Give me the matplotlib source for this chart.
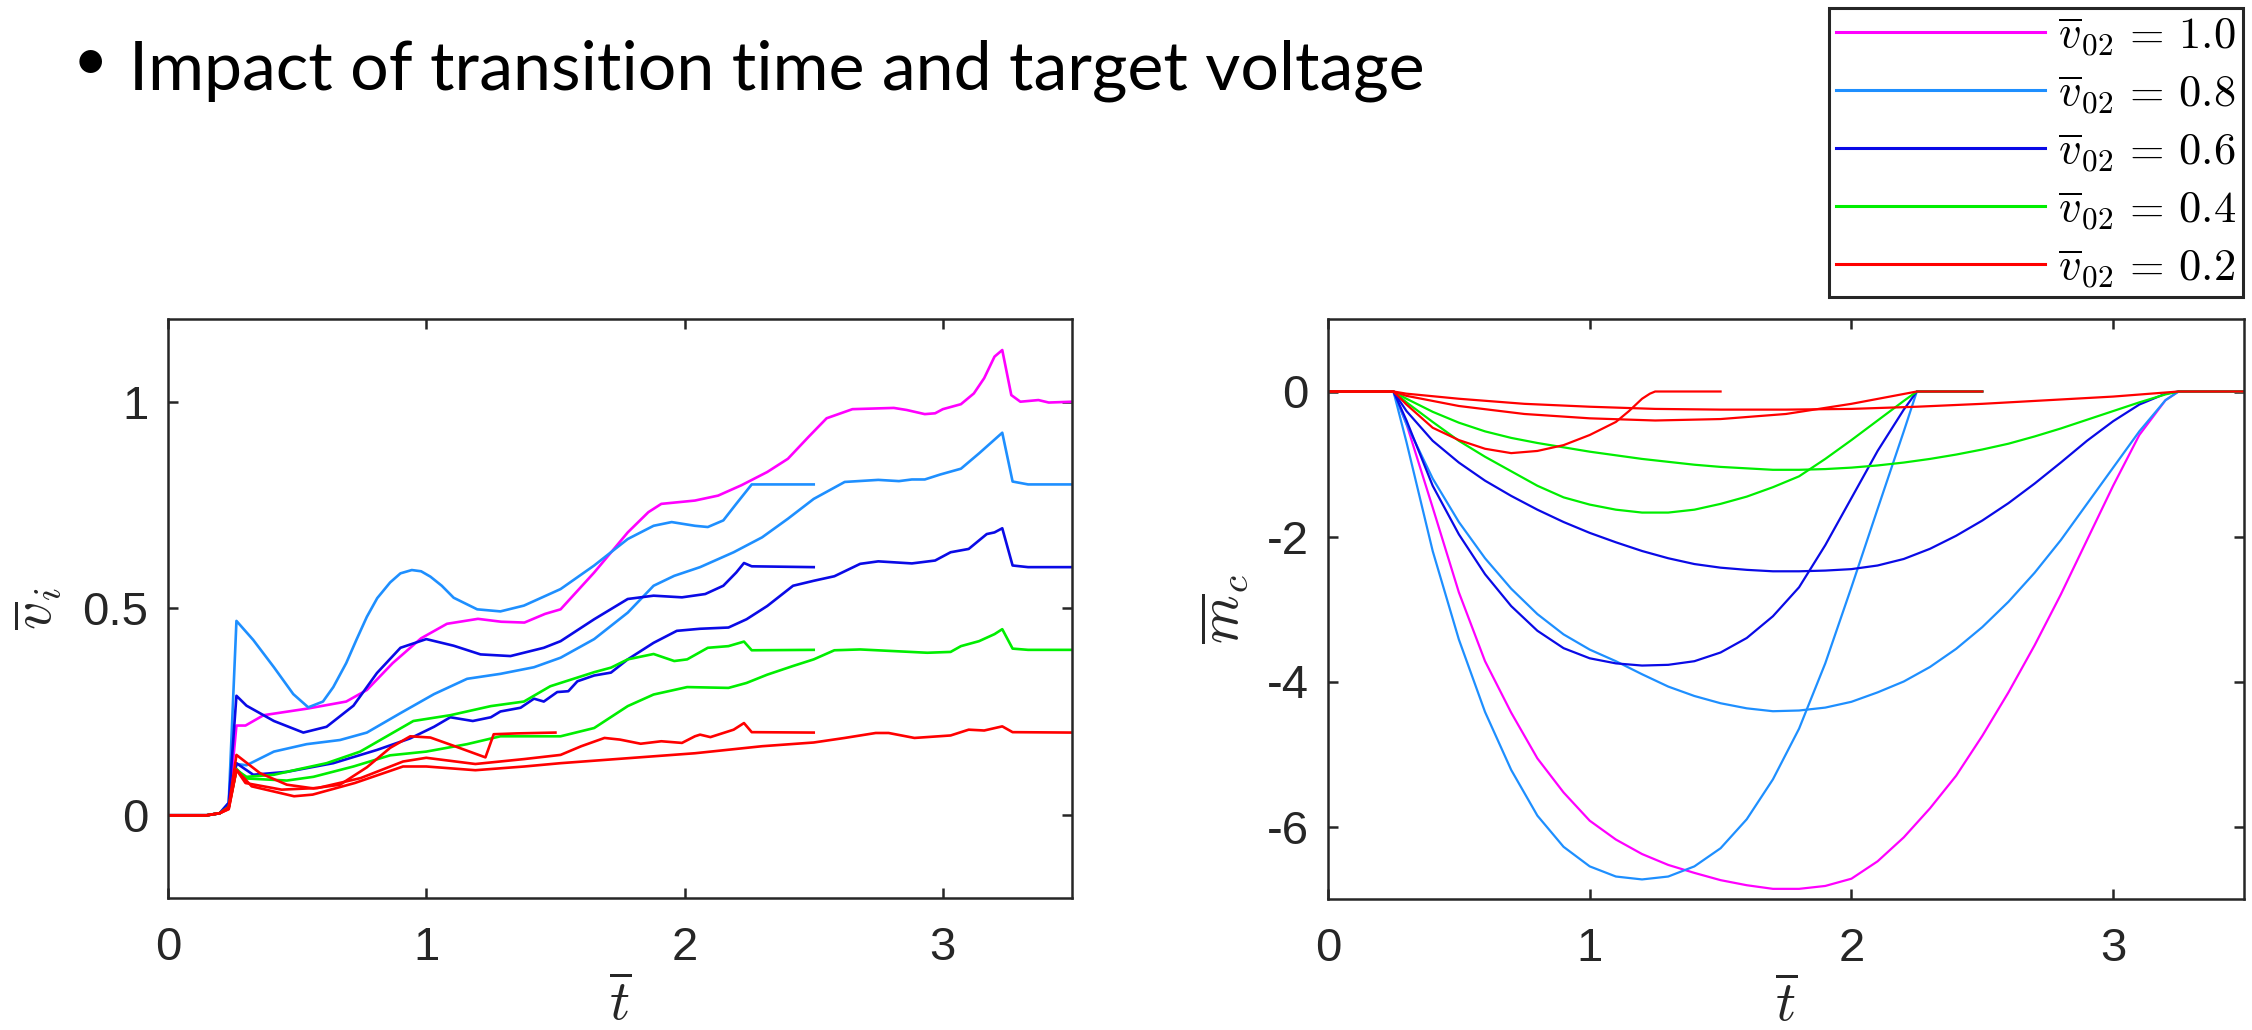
import matplotlib
matplotlib.use('Agg')
import matplotlib.pyplot as plt

plt.rcParams['mathtext.fontset'] = 'cm'
plt.rcParams['axes.unicode_minus'] = False
plt.rcParams['font.family'] = ['Liberation Sans', 'DejaVu Sans']

# ---------------- data: left panel (v_i vs t) ----------------
vi_t_mag3 = [0, 0.15, 0.2, 0.235, 0.265, 0.30, 0.37, 0.54, 0.69, 0.77, 0.87, 0.98, 1.08, 1.2, 1.29, 1.38, 1.46, 1.52, 1.65, 1.78, 1.86, 1.91, 2.04, 2.13, 2.22, 2.32, 2.4, 2.48, 2.55, 2.65, 2.81, 2.86, 2.93, 2.97, 3.0, 3.07, 3.12, 3.16, 3.2, 3.23, 3.265, 3.3, 3.37, 3.41, 3.5]
vi_mag3 = [0, 0, 0.005, 0.02, 0.217, 0.217, 0.242, 0.258, 0.275, 0.303, 0.368, 0.428, 0.463, 0.475, 0.468, 0.466, 0.487, 0.498, 0.587, 0.684, 0.733, 0.753, 0.761, 0.773, 0.798, 0.83, 0.862, 0.915, 0.96, 0.982, 0.985, 0.98, 0.97, 0.972, 0.982, 0.994, 1.02, 1.057, 1.109, 1.125, 1.016, 1.0, 1.004, 0.998, 1.0]

vi_t_lb2 = [0, 0.15, 0.2, 0.235, 0.265, 0.33, 0.41, 0.485, 0.543, 0.6, 0.64, 0.69, 0.73, 0.77, 0.81, 0.86, 0.9, 0.944, 0.98, 1.016, 1.06, 1.106, 1.197, 1.287, 1.378, 1.52, 1.65, 1.78, 1.88, 1.95, 2.04, 2.09, 2.15, 2.2, 2.26, 2.5]
vi_lb2 = [0, 0, 0.005, 0.03, 0.47, 0.424, 0.358, 0.293, 0.261, 0.275, 0.31, 0.368, 0.425, 0.48, 0.525, 0.563, 0.585, 0.593, 0.59, 0.577, 0.555, 0.526, 0.498, 0.493, 0.507, 0.547, 0.604, 0.668, 0.7, 0.709, 0.7, 0.697, 0.713, 0.753, 0.8, 0.8]

vi_t_lb3 = [0, 0.15, 0.2, 0.235, 0.265, 0.304, 0.41, 0.537, 0.666, 0.77, 0.9, 1.03, 1.158, 1.287, 1.417, 1.52, 1.65, 1.78, 1.88, 1.96, 2.06, 2.19, 2.3, 2.4, 2.5, 2.62, 2.75, 2.83, 2.88, 2.93, 2.99, 3.07, 3.14, 3.23, 3.27, 3.33, 3.5]
vi_lb3 = [0, 0, 0.005, 0.02, 0.124, 0.121, 0.154, 0.172, 0.182, 0.2, 0.247, 0.293, 0.33, 0.342, 0.358, 0.381, 0.426, 0.49, 0.555, 0.579, 0.6, 0.636, 0.672, 0.717, 0.765, 0.806, 0.811, 0.808, 0.812, 0.812, 0.824, 0.838, 0.875, 0.925, 0.807, 0.8, 0.8]

vi_t_db2 = [0, 0.15, 0.2, 0.235, 0.265, 0.304, 0.41, 0.524, 0.614, 0.718, 0.809, 0.9, 1.0, 1.106, 1.21, 1.326, 1.455, 1.52, 1.65, 1.78, 1.88, 1.99, 2.08, 2.15, 2.2, 2.23, 2.26, 2.5]
vi_db2 = [0, 0, 0.005, 0.03, 0.289, 0.265, 0.228, 0.2, 0.214, 0.265, 0.344, 0.405, 0.426, 0.41, 0.389, 0.385, 0.405, 0.421, 0.474, 0.523, 0.531, 0.527, 0.535, 0.555, 0.587, 0.61, 0.602, 0.6]

vi_t_db3 = [0, 0.15, 0.2, 0.235, 0.265, 0.33, 0.46, 0.64, 0.809, 0.938, 1.03, 1.093, 1.18, 1.25, 1.287, 1.365, 1.417, 1.455, 1.507, 1.55, 1.585, 1.65, 1.715, 1.78, 1.88, 1.97, 2.06, 2.17, 2.24, 2.32, 2.42, 2.5, 2.58, 2.68, 2.75, 2.88, 2.97, 3.03, 3.1, 3.17, 3.2, 3.23, 3.27, 3.33, 3.5]
vi_db3 = [0, 0, 0.005, 0.02, 0.126, 0.098, 0.105, 0.126, 0.158, 0.186, 0.214, 0.237, 0.228, 0.237, 0.251, 0.26, 0.282, 0.275, 0.298, 0.3, 0.324, 0.338, 0.345, 0.377, 0.417, 0.446, 0.451, 0.454, 0.474, 0.506, 0.555, 0.567, 0.578, 0.608, 0.614, 0.609, 0.616, 0.636, 0.644, 0.68, 0.684, 0.694, 0.604, 0.6, 0.6]

vi_t_gr2 = [0, 0.15, 0.2, 0.235, 0.265, 0.304, 0.41, 0.51, 0.614, 0.744, 0.847, 0.95, 1.093, 1.25, 1.378, 1.48, 1.52, 1.65, 1.715, 1.78, 1.88, 1.96, 2.01, 2.09, 2.17, 2.23, 2.26, 2.5]
vi_gr2 = [0, 0, 0.005, 0.02, 0.109, 0.093, 0.098, 0.112, 0.126, 0.154, 0.191, 0.228, 0.242, 0.264, 0.275, 0.312, 0.32, 0.346, 0.357, 0.377, 0.39, 0.373, 0.377, 0.405, 0.409, 0.42, 0.399, 0.4]

vi_t_gr3 = [0, 0.15, 0.2, 0.235, 0.265, 0.304, 0.46, 0.563, 0.718, 0.86, 1.0, 1.158, 1.287, 1.43, 1.52, 1.65, 1.78, 1.88, 2.01, 2.17, 2.24, 2.32, 2.42, 2.5, 2.58, 2.68, 2.81, 2.94, 3.03, 3.07, 3.14, 3.2, 3.23, 3.27, 3.33, 3.5]
vi_gr3 = [0, 0, 0.005, 0.02, 0.112, 0.089, 0.084, 0.093, 0.118, 0.145, 0.154, 0.172, 0.191, 0.191, 0.191, 0.211, 0.264, 0.292, 0.31, 0.308, 0.32, 0.34, 0.361, 0.377, 0.399, 0.401, 0.397, 0.393, 0.395, 0.409, 0.421, 0.438, 0.45, 0.403, 0.4, 0.4]

vi_t_rd1 = [0, 0.15, 0.2, 0.235, 0.265, 0.356, 0.46, 0.563, 0.666, 0.77, 0.86, 0.938, 1.016, 1.106, 1.229, 1.261, 1.35, 1.5]
vi_rd1 = [0, 0, 0.005, 0.02, 0.146, 0.102, 0.074, 0.065, 0.074, 0.116, 0.163, 0.191, 0.188, 0.168, 0.14, 0.196, 0.198, 0.2]

vi_t_rd2 = [0, 0.15, 0.2, 0.235, 0.265, 0.3, 0.44, 0.58, 0.746, 0.91, 1.0, 1.19, 1.38, 1.52, 1.6, 1.69, 1.75, 1.83, 1.91, 1.99, 2.04, 2.06, 2.1, 2.19, 2.23, 2.26, 2.5]
vi_rd2 = [0, 0, 0.005, 0.015, 0.11, 0.078, 0.062, 0.066, 0.09, 0.13, 0.139, 0.124, 0.136, 0.146, 0.167, 0.187, 0.183, 0.173, 0.179, 0.175, 0.191, 0.195, 0.189, 0.207, 0.223, 0.201, 0.2]

vi_t_rd3 = [0, 0.15, 0.2, 0.235, 0.265, 0.324, 0.488, 0.56, 0.723, 0.91, 1.0, 1.19, 1.38, 1.52, 1.78, 2.04, 2.3, 2.5, 2.62, 2.74, 2.79, 2.89, 3.03, 3.1, 3.16, 3.23, 3.27, 3.5]
vi_rd3 = [0, 0, 0.005, 0.015, 0.11, 0.07, 0.046, 0.05, 0.078, 0.118, 0.118, 0.109, 0.118, 0.126, 0.138, 0.15, 0.167, 0.176, 0.187, 0.199, 0.199, 0.187, 0.193, 0.207, 0.205, 0.215, 0.201, 0.2]

# ---------------- data: right panel (m_c vs t) ----------------
mc_t_T3 = [0, 0.25, 0.3, 0.4, 0.5, 0.6, 0.7, 0.8, 0.9, 1.0, 1.1, 1.2, 1.3, 1.4, 1.5, 1.6, 1.7, 1.8, 1.9, 2.0, 2.1, 2.2, 2.3, 2.4, 2.5, 2.6, 2.7, 2.8, 2.9, 3.0, 3.1, 3.2, 3.25, 3.5]
mc_t_T2 = [0, 0.25, 0.3, 0.4, 0.5, 0.6, 0.7, 0.8, 0.9, 1.0, 1.1, 1.2, 1.3, 1.4, 1.5, 1.6, 1.7, 1.8, 1.9, 2.0, 2.1, 2.2, 2.25, 2.5]

mc_mag3 = [0, 0, -0.45, -1.6, -2.77, -3.72, -4.43, -5.06, -5.53, -5.92, -6.18, -6.38, -6.53, -6.64, -6.74, -6.81, -6.86, -6.86, -6.82, -6.72, -6.48, -6.15, -5.75, -5.3, -4.75, -4.15, -3.5, -2.8, -2.05, -1.3, -0.6, -0.12, 0, 0]
mc_lb3 = [0, 0, -0.45, -1.2, -1.8, -2.3, -2.72, -3.07, -3.35, -3.56, -3.72, -3.9, -4.07, -4.2, -4.3, -4.37, -4.41, -4.4, -4.36, -4.28, -4.15, -4.0, -3.8, -3.55, -3.25, -2.9, -2.5, -2.05, -1.55, -1.05, -0.55, -0.12, 0, 0]
mc_db3 = [0, 0, -0.27, -0.68, -0.98, -1.23, -1.44, -1.63, -1.8, -1.95, -2.08, -2.2, -2.3, -2.38, -2.43, -2.46, -2.48, -2.48, -2.47, -2.45, -2.4, -2.31, -2.17, -1.99, -1.78, -1.54, -1.27, -0.98, -0.68, -0.41, -0.18, -0.03, 0, 0]
mc_gr3 = [0, 0, -0.1, -0.28, -0.43, -0.55, -0.64, -0.71, -0.77, -0.83, -0.88, -0.93, -0.97, -1.01, -1.04, -1.06, -1.08, -1.08, -1.07, -1.05, -1.02, -0.98, -0.93, -0.87, -0.8, -0.72, -0.62, -0.51, -0.39, -0.27, -0.15, -0.04, 0, 0]

mc_lb2 = [0, 0, -0.7, -2.2, -3.42, -4.42, -5.22, -5.85, -6.28, -6.55, -6.69, -6.73, -6.69, -6.55, -6.3, -5.9, -5.35, -4.65, -3.75, -2.7, -1.62, -0.55, 0, 0]
mc_db2 = [0, 0, -0.4, -1.3, -1.97, -2.52, -2.96, -3.3, -3.54, -3.68, -3.75, -3.78, -3.77, -3.72, -3.6, -3.4, -3.1, -2.7, -2.12, -1.47, -0.82, -0.25, 0, 0]
mc_gr2 = [0, 0, -0.15, -0.42, -0.68, -0.9, -1.1, -1.3, -1.46, -1.56, -1.63, -1.67, -1.67, -1.63, -1.55, -1.45, -1.32, -1.17, -0.93, -0.67, -0.4, -0.13, 0, 0]

mc_t_rd1 = [0, 0.25, 0.3, 0.4, 0.5, 0.6, 0.7, 0.8, 0.9, 1.0, 1.1, 1.15, 1.2, 1.23, 1.25, 1.5]
mc_rd1 = [0, 0, -0.18, -0.5, -0.67, -0.79, -0.85, -0.82, -0.74, -0.6, -0.42, -0.27, -0.1, -0.03, 0, 0]
mc_t_rd2 = [0, 0.25, 0.3, 0.5, 0.75, 1.0, 1.25, 1.5, 1.75, 2.0, 2.25, 2.5]
mc_rd2 = [0, 0, -0.06, -0.2, -0.31, -0.37, -0.4, -0.38, -0.31, -0.17, 0, 0]
mc_t_rd3 = [0, 0.25, 0.3, 0.5, 0.75, 1.0, 1.25, 1.5, 1.75, 2.0, 2.25, 2.5, 2.75, 3.0, 3.25, 3.5]
mc_rd3 = [0, 0, -0.03, -0.1, -0.17, -0.21, -0.24, -0.25, -0.25, -0.24, -0.21, -0.17, -0.12, -0.07, 0, 0]

legend_labels = [r'$\overline{v}_{02}\,=\,1.0$', r'$\overline{v}_{02}\,=\,0.8$', r'$\overline{v}_{02}\,=\,0.6$',
                 r'$\overline{v}_{02}\,=\,0.4$', r'$\overline{v}_{02}\,=\,0.2$']
x_ticks = [0, 1, 2, 3]
x_ticklabels = ['0', '1', '2', '3']
vi_yticks = [0, 0.5, 1]
vi_yticklabels = ['0', '0.5', '1']
mc_yticks = [-6, -4, -2, 0]
mc_yticklabels = ['-6', '-4', '-2', '0']
title_text = 'Impact of transition time and target voltage'

C_MAG = '#FF00FF'
C_LB = '#1E8FFF'
C_DB = '#0A0AE6'
C_GR = '#00EE00'
C_RD = '#FF0000'
INK = '#262626'

W, H = 2252, 1030
fig = plt.figure(figsize=(W / 100, H / 100), dpi=100)
fig.patch.set_facecolor('white')

ax1 = fig.add_axes([168 / W, 1 - 898 / H, 904 / W, 579 / H])
ax2 = fig.add_axes([1328 / W, 1 - 899 / H, 916 / W, 580 / H])

LW1 = 1.9
ax1.plot(vi_t_mag3, vi_mag3, color=C_MAG, lw=LW1)
ax1.plot(vi_t_lb2, vi_lb2, color=C_LB, lw=LW1)
ax1.plot(vi_t_lb3, vi_lb3, color=C_LB, lw=LW1)
ax1.plot(vi_t_db2, vi_db2, color=C_DB, lw=LW1)
ax1.plot(vi_t_db3, vi_db3, color=C_DB, lw=LW1)
ax1.plot(vi_t_gr2, vi_gr2, color=C_GR, lw=LW1)
ax1.plot(vi_t_gr3, vi_gr3, color=C_GR, lw=LW1)
ax1.plot(vi_t_rd1, vi_rd1, color=C_RD, lw=LW1)
ax1.plot(vi_t_rd2, vi_rd2, color=C_RD, lw=LW1)
ax1.plot(vi_t_rd3, vi_rd3, color=C_RD, lw=LW1)

LW2 = 1.6
h_mag, = ax2.plot(mc_t_T3, mc_mag3, color=C_MAG, lw=LW2)
h_lb, = ax2.plot(mc_t_T2, mc_lb2, color=C_LB, lw=LW2)
ax2.plot(mc_t_T3, mc_lb3, color=C_LB, lw=LW2)
h_db, = ax2.plot(mc_t_T2, mc_db2, color=C_DB, lw=LW2)
ax2.plot(mc_t_T3, mc_db3, color=C_DB, lw=LW2)
h_gr, = ax2.plot(mc_t_T2, mc_gr2, color=C_GR, lw=LW2)
ax2.plot(mc_t_T3, mc_gr3, color=C_GR, lw=LW2)
h_rd, = ax2.plot(mc_t_rd1, mc_rd1, color=C_RD, lw=LW2)
ax2.plot(mc_t_rd2, mc_rd2, color=C_RD, lw=LW2)
ax2.plot(mc_t_rd3, mc_rd3, color=C_RD, lw=LW2)

ax1.set_xlim(0, 3.5)
ax1.set_ylim(-0.2, 1.2)
ax2.set_xlim(0, 3.5)
ax2.set_ylim(-7, 1)

for ax in (ax1, ax2):
    for s in ax.spines.values():
        s.set_linewidth(1.8)
        s.set_color(INK)
    ax.set_xticks(x_ticks)
    ax.set_xticklabels(x_ticklabels)
    ax.tick_params(direction='in', length=7, width=1.8, colors=INK, labelsize=34,
                   top=True, right=True)
    ax.tick_params(axis='x', pad=20)
    ax.tick_params(axis='y', pad=14)

ax1.set_yticks(vi_yticks)
ax1.set_yticklabels(vi_yticklabels)
ax2.set_yticks(mc_yticks)
ax2.set_yticklabels(mc_yticklabels)

ax1.set_ylabel(r'$\overline{v}_i$', fontsize=40, color=INK, va='center')
ax1.yaxis.set_label_coords(-0.144, 0.5)
ax2.set_ylabel(r'$\overline{m}_c$', fontsize=40, color=INK, va='center')
ax2.yaxis.set_label_coords(-0.113, 0.5)
ax1.set_xlabel(r'$\overline{t}$', fontsize=40, color=INK, va='baseline')
ax1.xaxis.set_label_coords(0.5, -0.212)
ax2.set_xlabel(r'$\overline{t}$', fontsize=40, color=INK, va='baseline')
ax2.xaxis.set_label_coords(0.5, -0.210)

leg = fig.legend([h_mag, h_lb, h_db, h_gr, h_rd], legend_labels,
                 loc='upper right', bbox_to_anchor=(2243 / W, 1 - 8 / H),
                 bbox_transform=fig.transFigure, borderaxespad=0,
                 fontsize=32, handlelength=4.7, handletextpad=0.28,
                 labelspacing=0.34, borderpad=0.16, fancybox=False,
                 framealpha=1, edgecolor=INK)
leg.get_frame().set_linewidth(2.2)
for ln in leg.get_lines():
    ln.set_linewidth(2.2)

# bullet title
ttl = fig.text(129 / W, 1 - 89 / H, title_text, fontsize=50, family=['Lato', 'DejaVu Sans'],
               weight='normal', va='baseline', ha='left', color='black')
fig.canvas.draw()
bb = ttl.get_window_extent()
ttl.set_fontsize(50 * 1294 / bb.width)
fig.text(90 / W, 1 - 80 / H, '\u2022', fontsize=44, family=['Lato', 'DejaVu Sans'],
         va='baseline', ha='center', color='black')

fig.savefig('out.png', dpi=100, facecolor='white')
